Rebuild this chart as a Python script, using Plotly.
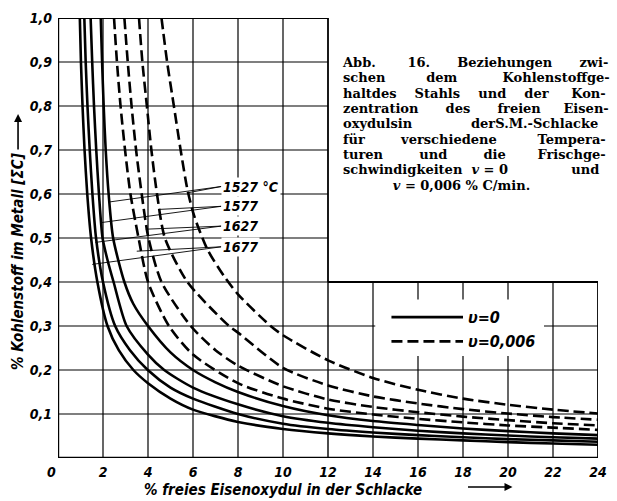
import plotly.graph_objects as go

# ---------------- data ----------------
x_tick_vals = [0, 2, 4, 6, 8, 10, 12, 14, 16, 18, 20, 22, 24]
x_tick_text = ["0\u00a0\u00a0\u00a0", "2", "4", "6", "8", "10", "12", "14", "16", "18", "20", "22", "24"]
y_tick_vals = [0.1, 0.2, 0.3, 0.4, 0.5, 0.6, 0.7, 0.8, 0.9, 1.0]
y_tick_text = ["0,1", "0,2", "0,3", "0,4", "0,5", "0,6", "0,7", "0,8", "0,9", "1,0"]
temperatures = ["1527 °C", "1577", "1627", "1677"]

# v = 0 (solid curves)
s1527_x = [1.9, 1.96, 2.03, 2.12, 2.25, 2.45, 2.95, 3.35, 4.0, 5.0, 6.0, 7.0, 8.0, 10, 12, 14, 16, 18, 20, 22, 24]
s1527_y = [1.0, 0.9, 0.8, 0.7, 0.6, 0.5, 0.4, 0.35, 0.30, 0.24, 0.20, 0.172, 0.15, 0.118, 0.097, 0.084, 0.075, 0.067, 0.061, 0.056, 0.052]
s1577_x = [1.45, 1.52, 1.6, 1.7, 1.82, 1.98, 2.2, 2.47, 3.05, 4.0, 4.72, 6, 8, 10, 12, 14, 16, 18, 20, 22, 24]
s1577_y = [1.0, 0.9, 0.8, 0.7, 0.6, 0.5, 0.45, 0.4, 0.3, 0.235, 0.2, 0.16, 0.122, 0.095, 0.08, 0.07, 0.062, 0.056, 0.051, 0.047, 0.044]
s1627_x = [1.17, 1.23, 1.31, 1.41, 1.53, 1.69, 2.0, 2.54, 3.2, 3.99, 5.0, 6, 8, 10, 12, 14, 16, 18, 20, 22, 24]
s1627_y = [1.0, 0.9, 0.8, 0.7, 0.6, 0.5, 0.4, 0.3, 0.245, 0.2, 0.16, 0.135, 0.1, 0.078, 0.066, 0.058, 0.052, 0.047, 0.043, 0.04, 0.037]
s1677_x = [0.97, 1.02, 1.09, 1.18, 1.3, 1.47, 1.75, 2.2, 2.7, 3.35, 4.0, 5.0, 6, 8, 10, 12, 14, 16, 18, 20, 22, 24]
s1677_y = [1.0, 0.9, 0.8, 0.7, 0.6, 0.5, 0.4, 0.3, 0.245, 0.2, 0.17, 0.135, 0.11, 0.082, 0.066, 0.056, 0.049, 0.044, 0.04, 0.036, 0.033, 0.030]

# v = 0,006 (dashed curves)
d1527_x = [4.6, 4.85, 5.15, 5.45, 5.76, 6.06, 6.64, 7.37, 8.0, 9.45, 10, 12, 14, 16, 18, 20, 22, 24]
d1527_y = [1.0, 0.9, 0.8, 0.7, 0.608, 0.549, 0.474, 0.414, 0.372, 0.3, 0.279, 0.222, 0.182, 0.155, 0.135, 0.121, 0.11, 0.101]
d1577_x = [3.6, 3.75, 3.95, 4.15, 4.4, 4.75, 5.75, 7.6, 8, 10, 12, 14, 16, 18, 20, 22, 24]
d1577_y = [1.0, 0.9, 0.8, 0.7, 0.6, 0.5, 0.4, 0.3, 0.285, 0.205, 0.165, 0.14, 0.124, 0.111, 0.101, 0.093, 0.087]
d1627_x = [2.95, 3.1, 3.27, 3.47, 3.72, 4.02, 4.6, 5.9, 7, 8, 10, 12, 14, 16, 18, 20, 22, 24]
d1627_y = [1.0, 0.9, 0.8, 0.7, 0.6, 0.5, 0.4, 0.3, 0.245, 0.21, 0.163, 0.133, 0.116, 0.104, 0.094, 0.086, 0.079, 0.074]
d1677_x = [2.49, 2.62, 2.78, 2.98, 3.22, 3.58, 4.0, 4.93, 6, 8, 10, 12, 14, 16, 18, 20, 22, 24]
d1677_y = [1.0, 0.9, 0.8, 0.7, 0.6, 0.5, 0.4, 0.3, 0.235, 0.17, 0.135, 0.112, 0.099, 0.089, 0.081, 0.074, 0.069, 0.064]

solid_curves = [(s1527_x, s1527_y), (s1577_x, s1577_y), (s1627_x, s1627_y), (s1677_x, s1677_y)]
dashed_curves = [(d1527_x, d1527_y), (d1577_x, d1577_y), (d1627_x, d1627_y), (d1677_x, d1677_y)]

# ---------------- styling ----------------
SANS = "DejaVu Sans Condensed, Liberation Sans Narrow, DejaVu Sans, sans-serif"
SERIF = "DejaVu Serif, Liberation Serif, serif"
BI = dict(family=SANS, color="black", style="italic", weight="bold")
DASH = "11px,5px"

fig = go.Figure()
for (xs, ys), t in zip(solid_curves, temperatures):
    fig.add_trace(go.Scatter(x=xs, y=ys, mode="lines", name=f"v=0, {t}",
                             line=dict(color="black", width=2.6, shape="spline", smoothing=0.7),
                             showlegend=False, hoverinfo="skip"))
for (xs, ys), t in zip(dashed_curves, temperatures):
    fig.add_trace(go.Scatter(x=xs, y=ys, mode="lines", name=f"v=0,006, {t}",
                             line=dict(color="black", width=2.6, shape="spline", smoothing=0.7, dash=DASH),
                             showlegend=False, hoverinfo="skip"))

shapes = []
def seg(x0, y0, x1, y1, w=1.2):
    shapes.append(dict(type="line", xref="x", yref="y", x0=x0, y0=y0, x1=x1, y1=y1,
                       line=dict(color="black", width=w), layer="below"))

# grid
for gx in [2, 4, 6, 8, 10]:
    seg(gx, 0, gx, 1.0)
for gx in [14, 16, 18, 20, 22]:
    seg(gx, 0, gx, 0.4)
for gy in [0.1, 0.2, 0.3]:
    seg(0, gy, 24, gy)
for gy in [0.4, 0.5, 0.6, 0.7, 0.8, 0.9]:
    seg(0, gy, 12, gy)
# L-shaped frame
seg(0, 1.0, 12, 1.0, 1.8)
seg(12, 0.4, 12, 1.0, 1.8)
seg(12, 0, 12, 0.4, 1.4)
seg(12, 0.4, 24, 0.4, 1.8)
seg(24, 0, 24, 0.4, 1.8)
seg(0, 0, 0, 1.0, 2.4)
seg(0, 0, 24, 0, 2.4)
# white area behind the legend
shapes.append(dict(type="rect", xref="x", yref="y", x0=14.1, x1=21.6, y0=0.232, y1=0.36,
                   fillcolor="white", line=dict(width=0), layer="below"))
# legend samples
shapes.append(dict(type="line", xref="x", yref="y", x0=14.82, x1=18.0, y0=0.32, y1=0.32,
                   line=dict(color="black", width=2.8)))
shapes.append(dict(type="line", xref="x", yref="y", x0=14.82, x1=18.0, y0=0.265, y1=0.265,
                   line=dict(color="black", width=2.8, dash=DASH)))

# leader lines from temperature labels to the curves
label_pos = [(7.25, 0.617), (7.25, 0.572), (7.25, 0.527), (7.25, 0.48)]
leader_ends = [[(5.8, 0.603), (2.3, 0.582)],
               [(4.5, 0.565), (1.92, 0.535)],
               [(3.9, 0.52), (1.66, 0.49)],
               [(3.5, 0.47), (1.52, 0.44)]]
for (lx, ly), ends in zip(label_pos, leader_ends):
    for ex, ey in ends:
        shapes.append(dict(type="line", xref="x", yref="y", x0=lx, y0=ly, x1=ex, y1=ey,
                           line=dict(color="black", width=0.9)))

annotations = []
for (lx, ly), t in zip(label_pos, temperatures):
    annotations.append(dict(x=lx, y=ly, xref="x", yref="y", text=t, showarrow=False,
                            xanchor="left", yanchor="middle", bgcolor="white", borderpad=1,
                            font=dict(size=14, **BI)))

annotations.append(dict(x=18.15, y=0.32, xref="x", yref="y", text="υ=0", showarrow=False,
                        xanchor="left", yanchor="middle", font=dict(size=16, **BI)))
annotations.append(dict(x=18.15, y=0.265, xref="x", yref="y", text="υ=0,006", showarrow=False,
                        xanchor="left", yanchor="middle", font=dict(size=16, **BI)))

# axis titles
annotations.append(dict(x=10.0, y=-0.072, xref="x", yref="paper", text="% freies Eisenoxydul in der Schlacke",
                        showarrow=False, xanchor="center", yanchor="middle", font=dict(size=15, **BI)))
annotations.append(dict(x=20.2, y=-0.066, xref="x", yref="paper", text="", showarrow=True,
                        ax=-46, ay=0, arrowhead=2, arrowsize=1, arrowwidth=1.6, arrowcolor="black"))
annotations.append(dict(x=-0.074, y=0.448, xref="paper", yref="paper", text="% Kohlenstoff im Metall [ΣC]",
                        textangle=-90, showarrow=False, xanchor="center", yanchor="middle",
                        font=dict(size=15, **BI)))
annotations.append(dict(x=-0.074, y=0.782, xref="paper", yref="paper", text="", showarrow=True,
                        ax=0, ay=37, arrowhead=2, arrowsize=1, arrowwidth=1.6, arrowcolor="black"))

# caption (justified with non-breaking spaces, one text block)
NB = "\u00a0"
caption_lines = [
    "Abb." + NB * 7 + "16." + NB * 6 + "Beziehungen" + NB * 6 + "zwi-",
    "schen" + NB * 9 + "dem" + NB * 10 + "Kohlenstoffge-",
    "haltdes" + NB * 4 + "Stahls" + NB * 4 + "und" + NB * 4 + "der" + NB * 5 + "Kon-",
    "zentration" + NB * 6 + "des" + NB * 6 + "freien" + NB * 5 + "Eisen-",
    "oxydulsin" + NB * 13 + "derS.M.-Schlacke",
    "für" + NB * 8 + "verschiedene" + NB * 9 + "Tempera-",
    "turen" + NB * 8 + "und" + NB * 8 + "die" + NB * 7 + "Frischge-",
    "schwindigkeiten" + NB * 2 + "<i>v</i> = 0" + NB * 14 + "und",
    NB * 11 + "<i>v</i> = 0,006 % C/min.",
]
caption = "<br>".join('<span style="font-size:13px">' + ln + "</span>" for ln in caption_lines)
annotations.append(dict(x=(345 - 58) / 549, y=(458 - 47) / 446, xref="paper", yref="paper",
                        text=caption, showarrow=False, xanchor="left", yanchor="top", align="left",
                        font=dict(size=11.8, family=SERIF, color="black", weight="bold")))

fig.update_layout(
    width=617, height=501,
    margin=dict(l=58, r=10, t=12, b=43),
    paper_bgcolor="white", plot_bgcolor="white",
    shapes=shapes, annotations=annotations,
    showlegend=False,
    xaxis=dict(range=[0, 24], showgrid=False, zeroline=False, showline=False, ticks="",
               tickvals=x_tick_vals, ticktext=x_tick_text,
               tickfont=dict(size=14, **BI), ticklabelstandoff=4),
    yaxis=dict(range=[0, 1.0], showgrid=False, zeroline=False, showline=False, ticks="",
               tickvals=y_tick_vals, ticktext=y_tick_text,
               tickfont=dict(size=14, **BI), ticklabelstandoff=5),
)

fig.write_html("out.html")
